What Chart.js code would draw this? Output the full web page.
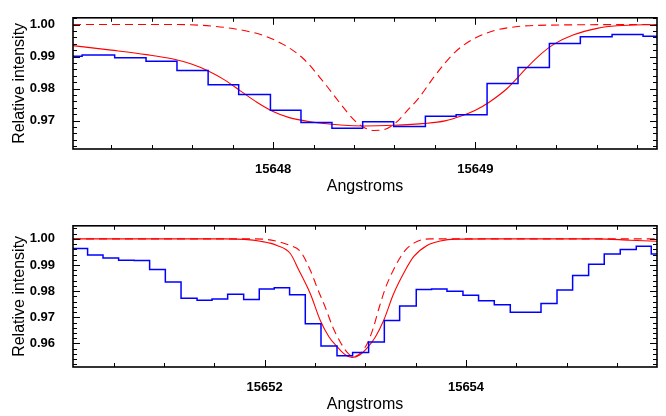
<!DOCTYPE html>
<html>
<head>
<meta charset="utf-8">
<script src="https://cdn.jsdelivr.net/npm/chart.js@4.4.0/dist/chart.umd.min.js"></script>
<style>
  body { margin: 0; background: #fff; }
  #wrap { position: relative; width: 666px; height: 416px; }
  canvas { position: absolute; left: 0; }
</style>
</head>
<body>
<div id="wrap">
  <canvas id="panel1" width="666" height="208" style="top:0px"></canvas>
  <canvas id="panel2" width="666" height="208" style="top:208px"></canvas>
</div>
<script>
// ---- upper panel ----
// observed spectrum, bin edges (Angstroms) and flux per bin
let edges1 = [15646.903, 15647.056, 15647.217, 15647.372, 15647.525, 15647.679, 15647.830,
  15647.987, 15648.138, 15648.291, 15648.443, 15648.596, 15648.753, 15648.905, 15649.058,
  15649.211, 15649.366, 15649.519, 15649.676, 15649.829, 15649.980];
let flux1 = [0.9901, 0.9905, 0.9896, 0.9885, 0.9856, 0.9812, 0.9781, 0.9732, 0.9694, 0.9676,
  0.9696, 0.9681, 0.9713, 0.9718, 0.9816, 0.9866, 0.9941, 0.9962, 0.9969, 0.9963];

// model, solid line
let modelWave1 = [15647.011, 15647.200, 15647.374, 15647.500, 15647.600, 15647.680, 15647.760,
  15647.840, 15647.920, 15648.000, 15648.080, 15648.184, 15648.333, 15648.450, 15648.595,
  15648.753, 15648.850, 15648.930, 15649.000, 15649.070, 15649.157, 15649.256, 15649.321,
  15649.387, 15649.486, 15649.602, 15649.700, 15649.898];
let modelFlux1 = [0.9934, 0.9920, 0.9906, 0.9893, 0.9876, 0.9855, 0.9827,
  0.9792, 0.9757, 0.9728, 0.9709, 0.9696, 0.9686, 0.9683, 0.9685,
  0.9691, 0.9699, 0.9714, 0.9732, 0.9758, 0.9800, 0.9866, 0.9906,
  0.9938, 0.9968, 0.9988, 0.9996, 1.0000];

// model, dashed line
let dashWave1 = [15647.011, 15647.500, 15647.700, 15647.850, 15647.950, 15648.050, 15648.150,
  15648.250, 15648.330, 15648.400, 15648.450, 15648.500, 15648.550, 15648.605, 15648.662,
  15648.720, 15648.800, 15648.900, 15649.000, 15649.100, 15649.200, 15649.350, 15649.898];
let dashFlux1 = [1.0000, 1.0000, 0.9995, 0.9982, 0.9966, 0.9938, 0.9893,
  0.9820, 0.9755, 0.9702, 0.9678, 0.9669, 0.9672, 0.9692, 0.9730,
  0.9770, 0.9840, 0.9914, 0.9958, 0.9982, 0.9993, 0.9998, 1.0000];

let xTicks1 = [15648, 15649];
let yTicks1 = [0.97, 0.98, 0.99, 1.00];

// ---- lower panel ----
let edges2 = [15650.087, 15650.242, 15650.395, 15650.550, 15650.704, 15650.858, 15651.014,
  15651.170, 15651.329, 15651.478, 15651.633, 15651.792, 15651.947, 15652.096, 15652.248,
  15652.404, 15652.560, 15652.719, 15652.874, 15653.033, 15653.189, 15653.341, 15653.506,
  15653.658, 15653.811, 15653.970, 15654.125, 15654.281, 15654.440, 15654.592, 15654.745,
  15654.904, 15655.059, 15655.218, 15655.373, 15655.532, 15655.691, 15655.840, 15655.995];
let flux2 = [0.9963, 0.9938, 0.9927, 0.9918, 0.9917, 0.9883, 0.9835,
  0.9773, 0.9765, 0.9770, 0.9788, 0.9768, 0.9808, 0.9813, 0.9786,
  0.9675, 0.9590, 0.9553, 0.9565, 0.9606, 0.9688, 0.9743, 0.9806,
  0.9808, 0.9800, 0.9784, 0.9763, 0.9748, 0.9719, 0.9719, 0.9753,
  0.9804, 0.9860, 0.9903, 0.9942, 0.9959, 0.9972, 0.9942];

let modelWave2 = [15650.097, 15651.600, 15651.800, 15651.957, 15652.123, 15652.255, 15652.338,
  15652.454, 15652.553, 15652.640, 15652.719, 15652.800, 15652.868, 15652.940, 15653.017,
  15653.100, 15653.182, 15653.281, 15653.397, 15653.480, 15653.613, 15653.745, 15653.900,
  15654.200, 15655.301, 15655.632, 15655.897];
let modelFlux2 = [1.0000, 1.0000, 0.9998, 0.9991, 0.9975, 0.9944, 0.9882,
  0.9790, 0.9688, 0.9625, 0.9588, 0.9557, 0.9547, 0.9555, 0.9582,
  0.9625, 0.9688, 0.9790, 0.9880, 0.9932, 0.9975, 0.9992, 0.9999,
  1.0000, 1.0000, 0.9995, 0.9991];

let dashWave2 = [15650.097, 15651.900, 15652.100, 15652.250, 15652.355, 15652.454, 15652.530,
  15652.603, 15652.680, 15652.752, 15652.834, 15652.881, 15652.930, 15653.017, 15653.080,
  15653.132, 15653.200, 15653.265, 15653.330, 15653.400, 15653.513, 15653.645, 15655.897];
let dashFlux2 = [1.0000, 1.0000, 0.9993, 0.9975, 0.9952, 0.9880, 0.9805,
  0.9738, 0.9660, 0.9605, 0.9560, 0.9551, 0.9556, 0.9598, 0.9660,
  0.9730, 0.9812, 0.9870, 0.9918, 0.9958, 0.9990, 1.0000, 1.0000];

let xTicks2 = [15652, 15654];
let yTicks2 = [0.96, 0.97, 0.98, 0.99, 1.00];

Chart.defaults.font.family = '"Liberation Sans", Arial, Helvetica, sans-serif';
Chart.defaults.color = '#000';

function pairs(xs, ys) {
  return xs.map((x, i) => ({x: x, y: ys[i]}));
}

function histo(edges, flux) {
  // one point per bin edge, last edge keeps the last value
  return edges.map((e, i) => ({x: e, y: flux[Math.min(i, flux.length - 1)]}));
}

function steps(min, max, step) {
  let out = [];
  let start = Math.ceil(min / step - 1e-9);
  for (let k = start; k * step <= max + 1e-9; k++) {
    out.push(+(k * step).toFixed(4));
  }
  return out;
}

// box round the plot with inward ticks on all four sides
const frame = {
  id: 'frame',
  afterDatasetsDraw(chart, args, opts) {
    const ctx = chart.ctx;
    const a = chart.chartArea;
    const sx = chart.scales.x;
    const sy = chart.scales.y;
    ctx.save();
    ctx.strokeStyle = '#000';
    ctx.lineWidth = 1;
    ctx.beginPath();
    for (let v of steps(sx.min, sx.max, opts.xMinor)) {
      let px = Math.round(sx.getPixelForValue(v)) + 0.5;
      let len = opts.xMajor.some(m => Math.abs(m - v) < 1e-6) ? 7 : 4;
      ctx.moveTo(px, a.bottom); ctx.lineTo(px, a.bottom - len);
      ctx.moveTo(px, a.top); ctx.lineTo(px, a.top + len);
    }
    for (let v of steps(sy.min, sy.max, opts.yMinor)) {
      let py = Math.round(sy.getPixelForValue(v)) + 0.5;
      let len = opts.yMajor.some(m => Math.abs(m - v) < 1e-6) ? 7 : 4;
      ctx.moveTo(a.left, py); ctx.lineTo(a.left + len, py);
      ctx.moveTo(a.right, py); ctx.lineTo(a.right - len, py);
    }
    ctx.stroke();
    ctx.lineWidth = 1.6;
    ctx.strokeRect(a.left, a.top, a.right - a.left, a.bottom - a.top);
    ctx.restore();
  }
};

function makePanel(canvas, p) {
  return new Chart(canvas, {
    type: 'line',
    data: {
      datasets: [
        {
          data: histo(p.edges, p.flux),
          stepped: true,
          borderColor: '#0000ff',
          borderWidth: 1.5,
          pointRadius: 0
        },
        {
          data: pairs(p.modelWave, p.modelFlux),
          borderColor: '#ff0000',
          borderWidth: 1.1,
          pointRadius: 0,
          cubicInterpolationMode: 'monotone'
        },
        {
          data: pairs(p.dashWave, p.dashFlux),
          borderColor: '#ff0000',
          borderWidth: 1.1,
          borderDash: [8, 5],
          pointRadius: 0,
          cubicInterpolationMode: 'monotone'
        }
      ]
    },
    options: {
      responsive: false,
      animation: false,
      devicePixelRatio: 1,
      layout: { padding: { top: p.padTop, right: 9, left: 0, bottom: 0 } },
      plugins: {
        legend: { display: false },
        tooltip: { enabled: false },
        frame: { xMinor: p.xMinor, yMinor: 0.002, xMajor: p.xTicks, yMajor: p.yTicks }
      },
      scales: {
        x: {
          type: 'linear',
          min: p.xMin,
          max: p.xMax,
          grid: { display: false },
          border: { display: false },
          afterBuildTicks: s => { s.ticks = p.xTicks.map(v => ({value: v})); },
          afterFit: s => { s.height = p.xAxisHeight; },
          ticks: {
            padding: 5,
            maxRotation: 0,
            font: { size: 13, weight: 'bold' },
            callback: v => v.toFixed(0)
          },
          title: {
            display: true,
            text: 'Angstroms',
            font: { size: 16 },
            padding: { top: 0, bottom: p.titlePad }
          }
        },
        y: {
          min: p.yMin,
          max: p.yMax,
          grid: { display: false },
          border: { display: false },
          afterBuildTicks: s => { s.ticks = p.yTicks.map(v => ({value: v})); },
          afterFit: s => { s.width = 73; },
          ticks: {
            padding: 10,
            font: { size: 13, weight: 'bold' },
            callback: v => v.toFixed(2)
          },
          title: {
            display: true,
            text: 'Relative intensity',
            font: { size: 16 },
            padding: { top: 10, bottom: 0 }
          }
        }
      }
    },
    plugins: [frame]
  });
}

makePanel(document.getElementById('panel1'), {
  edges: edges1, flux: flux1,
  modelWave: modelWave1, modelFlux: modelFlux1,
  dashWave: dashWave1, dashFlux: dashFlux1,
  xTicks: xTicks1, yTicks: yTicks1,
  xMin: 15647.011, xMax: 15649.898, yMin: 0.9611, yMax: 1.0021,
  xMinor: 0.2, padTop: 4, xAxisHeight: 59, titlePad: 12
});

makePanel(document.getElementById('panel2'), {
  edges: edges2, flux: flux2,
  modelWave: modelWave2, modelFlux: modelFlux2,
  dashWave: dashWave2, dashFlux: dashFlux2,
  xTicks: xTicks2, yTicks: yTicks2,
  xMin: 15650.097, xMax: 15655.897, yMin: 0.951, yMax: 1.005,
  xMinor: 0.5, padTop: 15, xAxisHeight: 49, titlePad: 2
});
</script>
</body>
</html>
